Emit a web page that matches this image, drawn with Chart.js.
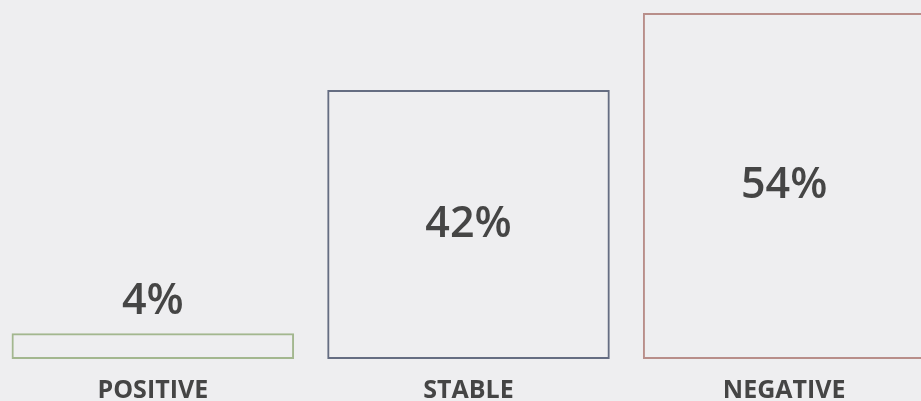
<!DOCTYPE html>
<html>
<head>
<meta charset="utf-8">
<script src="https://cdn.jsdelivr.net/npm/chart.js@4/dist/chart.umd.min.js"></script>
<style>
  html, body { margin: 0; padding: 0; background: #eeeef0; overflow: hidden; }
  #wrap { position: absolute; left: -5px; top: 0; width: 947px; height: 423px; }
</style>
</head>
<body>
<div id="wrap"><canvas id="chart"></canvas></div>
<script>
// outlook shares, in percent
var categories = ['POSITIVE', 'STABLE', 'NEGATIVE'];
var shares = [4, 42, 54];
var outlineColors = ['#a3b78f', '#656d82', '#b88e8a'];

// writes the percentage in the middle of tall bars, above short ones
var valueLabels = {
  id: 'valueLabels',
  afterDatasetsDraw: function(chart) {
    var ctx = chart.ctx;
    var meta = chart.getDatasetMeta(0);
    ctx.save();
    ctx.font = '600 43px "Open Sans"';
    ctx.fillStyle = '#454545';
    ctx.textAlign = 'center';
    ctx.textBaseline = 'middle';
    meta.data.forEach(function(bar, i) {
      var h = bar.base - bar.y;
      var y = h > 80 ? bar.y + h / 2 : bar.y - 32;
      ctx.fillText(shares[i] + '%', bar.x, y);
    });
    ctx.restore();
  }
};

var ctx = document.getElementById('chart').getContext('2d');
var chart = new Chart(ctx, {
  type: 'bar',
  data: {
    labels: categories,
    datasets: [{
      data: shares,
      backgroundColor: 'rgba(0,0,0,0)',
      borderColor: outlineColors,
      borderWidth: 2,
      borderSkipped: false,
      categoryPercentage: 1,
      barPercentage: 0.895
    }]
  },
  options: {
    responsive: true,
    maintainAspectRatio: false,
    animation: false,
    layout: { padding: { top: 13, left: 0, right: 0, bottom: 0 } },
    plugins: { legend: { display: false }, tooltip: { enabled: false } },
    scales: {
      x: {
        grid: { display: false, drawTicks: false },
        border: { display: false },
        ticks: {
          padding: 17,
          color: '#454545',
          font: { family: 'Open Sans', size: 25, weight: 'bold', lineHeight: 1.2 }
        }
      },
      y: {
        display: false,
        min: 0,
        max: 54
      }
    }
  },
  plugins: [valueLabels]
});
</script>
</body>
</html>
